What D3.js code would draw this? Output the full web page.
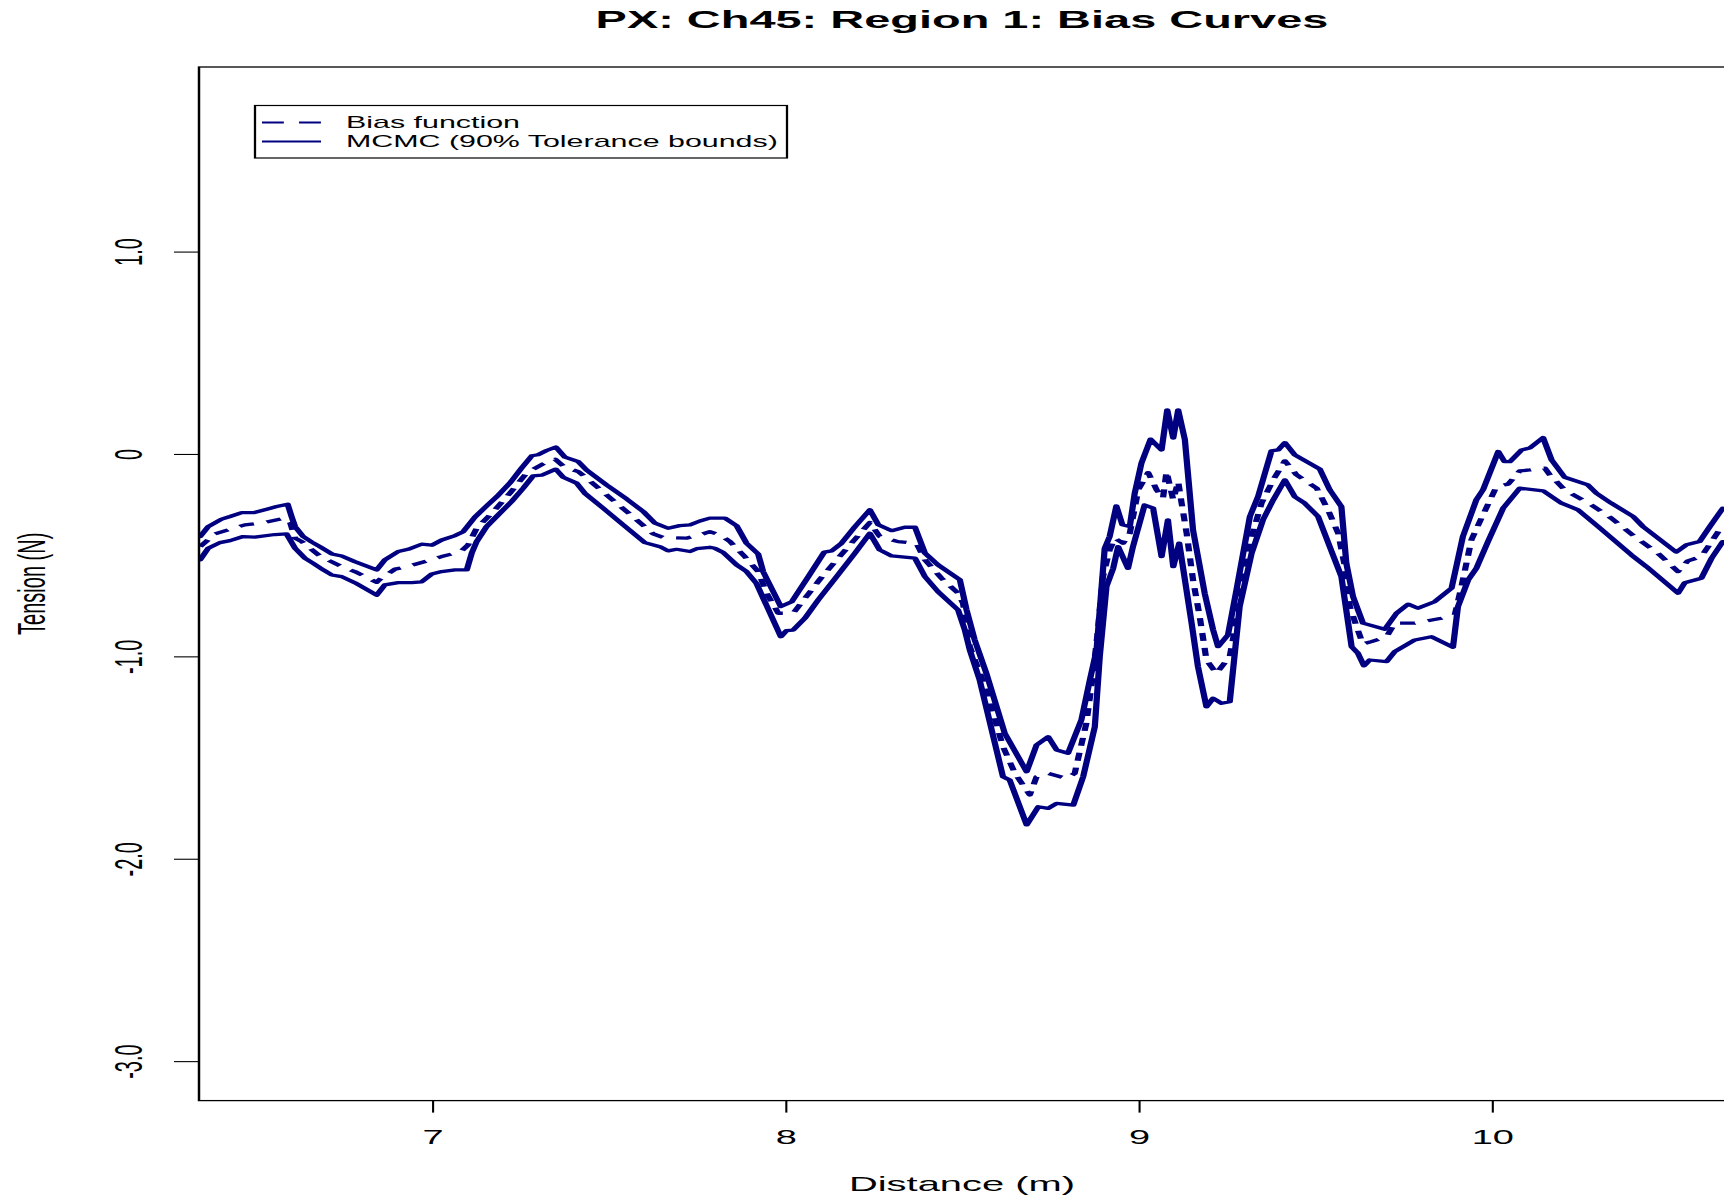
<!DOCTYPE html>
<html>
<head>
<meta charset="utf-8">
<script src="https://cdn.jsdelivr.net/npm/d3@7"></script>
<style>
    body { margin: 0; background: #fff; }
    svg text { font-family: "Liberation Sans", Arial, Helvetica, sans-serif; fill: #000; }
</style>
</head>
<body>
<svg id="chart" width="1724" height="1199"></svg>
<script>
// [distance (m), tension (N)]
var upperBound = [[6.343,-0.408],[6.366,-0.359],[6.404,-0.322],[6.428,-0.309],[6.461,-0.290],[6.494,-0.290],[6.532,-0.273],[6.560,-0.260],[6.591,-0.248],[6.602,-0.309],[6.612,-0.359],[6.635,-0.408],[6.659,-0.435],[6.682,-0.458],[6.716,-0.494],[6.744,-0.504],[6.781,-0.532],[6.843,-0.573],[6.866,-0.523],[6.904,-0.482],[6.932,-0.471],[6.970,-0.446],[6.999,-0.451],[7.027,-0.425],[7.065,-0.403],[7.088,-0.384],[7.121,-0.312],[7.154,-0.257],[7.183,-0.211],[7.220,-0.144],[7.253,-0.070],[7.282,-0.009],[7.300,-0.004],[7.324,0.017],[7.350,0.034],[7.376,-0.016],[7.414,-0.038],[7.437,-0.079],[7.494,-0.153],[7.551,-0.223],[7.598,-0.285],[7.631,-0.342],[7.668,-0.367],[7.701,-0.354],[7.730,-0.350],[7.758,-0.331],[7.786,-0.317],[7.829,-0.317],[7.862,-0.355],[7.890,-0.441],[7.923,-0.494],[7.937,-0.581],[7.987,-0.754],[8.018,-0.730],[8.065,-0.606],[8.110,-0.485],[8.131,-0.479],[8.159,-0.441],[8.197,-0.359],[8.239,-0.276],[8.263,-0.350],[8.301,-0.379],[8.338,-0.362],[8.367,-0.362],[8.395,-0.490],[8.432,-0.548],[8.494,-0.622],[8.513,-0.771],[8.536,-0.919],[8.569,-1.084],[8.621,-1.380],[8.683,-1.570],[8.711,-1.438],[8.744,-1.397],[8.768,-1.463],[8.800,-1.479],[8.838,-1.314],[8.862,-1.117],[8.881,-0.968],[8.904,-0.466],[8.918,-0.408],[8.937,-0.257],[8.954,-0.350],[8.975,-0.359],[8.989,-0.194],[9.008,-0.045],[9.034,0.073],[9.065,0.020],[9.081,0.218],[9.098,0.078],[9.112,0.218],[9.131,0.070],[9.154,-0.375],[9.187,-0.688],[9.211,-0.870],[9.225,-0.952],[9.253,-0.894],[9.277,-0.672],[9.315,-0.309],[9.338,-0.211],[9.376,0.015],[9.395,0.020],[9.414,0.056],[9.442,-0.004],[9.513,-0.075],[9.541,-0.177],[9.574,-0.260],[9.588,-0.540],[9.607,-0.705],[9.635,-0.836],[9.697,-0.866],[9.730,-0.787],[9.763,-0.742],[9.791,-0.762],[9.838,-0.730],[9.886,-0.663],[9.918,-0.408],[9.956,-0.227],[9.975,-0.177],[10.018,0.012],[10.036,-0.038],[10.051,-0.038],[10.084,0.020],[10.107,0.029],[10.145,0.081],[10.169,-0.029],[10.206,-0.115],[10.272,-0.153],[10.296,-0.194],[10.338,-0.243],[10.400,-0.309],[10.428,-0.359],[10.522,-0.485],[10.551,-0.449],[10.588,-0.433],[10.617,-0.359],[10.654,-0.268]];

var lowerBound = [[6.343,-0.523],[6.366,-0.466],[6.399,-0.438],[6.428,-0.428],[6.465,-0.408],[6.498,-0.411],[6.555,-0.398],[6.588,-0.395],[6.612,-0.466],[6.640,-0.515],[6.663,-0.540],[6.692,-0.573],[6.716,-0.598],[6.744,-0.606],[6.781,-0.636],[6.843,-0.698],[6.866,-0.647],[6.904,-0.636],[6.942,-0.636],[6.970,-0.632],[6.999,-0.593],[7.027,-0.581],[7.065,-0.573],[7.098,-0.573],[7.112,-0.490],[7.126,-0.433],[7.154,-0.359],[7.187,-0.301],[7.225,-0.235],[7.258,-0.169],[7.286,-0.108],[7.310,-0.105],[7.350,-0.075],[7.371,-0.115],[7.409,-0.144],[7.432,-0.194],[7.484,-0.268],[7.541,-0.350],[7.602,-0.438],[7.645,-0.458],[7.668,-0.479],[7.692,-0.471],[7.730,-0.482],[7.749,-0.468],[7.786,-0.461],[7.800,-0.466],[7.824,-0.487],[7.862,-0.548],[7.890,-0.581],[7.918,-0.639],[7.987,-0.903],[8.003,-0.873],[8.022,-0.870],[8.055,-0.812],[8.093,-0.721],[8.145,-0.606],[8.197,-0.490],[8.239,-0.392],[8.267,-0.474],[8.301,-0.504],[8.367,-0.515],[8.395,-0.606],[8.432,-0.680],[8.489,-0.771],[8.508,-0.870],[8.522,-0.968],[8.550,-1.117],[8.616,-1.595],[8.635,-1.611],[8.683,-1.833],[8.716,-1.743],[8.744,-1.751],[8.768,-1.726],[8.815,-1.735],[8.843,-1.595],[8.876,-1.348],[8.890,-1.001],[8.909,-0.655],[8.928,-0.565],[8.942,-0.458],[8.970,-0.565],[8.984,-0.458],[9.017,-0.252],[9.041,-0.268],[9.065,-0.507],[9.083,-0.326],[9.098,-0.557],[9.115,-0.441],[9.150,-0.836],[9.168,-1.051],[9.192,-1.249],[9.211,-1.207],[9.235,-1.232],[9.258,-1.224],[9.286,-0.754],[9.320,-0.490],[9.352,-0.326],[9.381,-0.227],[9.414,-0.128],[9.442,-0.211],[9.470,-0.243],[9.508,-0.309],[9.541,-0.458],[9.574,-0.606],[9.603,-0.952],[9.621,-0.985],[9.638,-1.047],[9.654,-1.018],[9.702,-1.026],[9.725,-0.977],[9.782,-0.919],[9.829,-0.903],[9.890,-0.955],[9.904,-0.754],[9.933,-0.622],[9.956,-0.565],[9.989,-0.433],[10.032,-0.268],[10.079,-0.169],[10.145,-0.182],[10.197,-0.243],[10.244,-0.276],[10.301,-0.359],[10.395,-0.499],[10.438,-0.557],[10.527,-0.688],[10.546,-0.636],[10.593,-0.614],[10.622,-0.515],[10.654,-0.433]];

var biasCurve = [[6.343,-0.458],[6.385,-0.395],[6.423,-0.375],[6.470,-0.350],[6.517,-0.342],[6.583,-0.317],[6.598,-0.339],[6.612,-0.416],[6.631,-0.433],[6.682,-0.504],[6.744,-0.557],[6.781,-0.581],[6.829,-0.622],[6.843,-0.634],[6.852,-0.619],[6.895,-0.569],[6.928,-0.557],[6.989,-0.527],[7.027,-0.507],[7.065,-0.490],[7.083,-0.479],[7.102,-0.449],[7.126,-0.367],[7.173,-0.285],[7.220,-0.194],[7.267,-0.095],[7.314,-0.049],[7.348,-0.026],[7.376,-0.067],[7.414,-0.087],[7.466,-0.161],[7.522,-0.243],[7.579,-0.326],[7.626,-0.395],[7.654,-0.413],[7.720,-0.416],[7.758,-0.400],[7.786,-0.384],[7.815,-0.400],[7.843,-0.433],[7.885,-0.507],[7.923,-0.581],[7.947,-0.688],[7.980,-0.787],[8.022,-0.787],[8.065,-0.692],[8.098,-0.619],[8.145,-0.523],[8.187,-0.441],[8.239,-0.339],[8.267,-0.408],[8.319,-0.433],[8.371,-0.441],[8.395,-0.523],[8.442,-0.614],[8.489,-0.688],[8.503,-0.738],[8.522,-0.952],[8.569,-1.166],[8.616,-1.446],[8.650,-1.578],[8.692,-1.685],[8.711,-1.595],[8.744,-1.578],[8.796,-1.603],[8.819,-1.578],[8.852,-1.331],[8.871,-1.084],[8.885,-0.870],[8.899,-0.606],[8.918,-0.474],[8.933,-0.416],[8.956,-0.441],[8.975,-0.392],[8.999,-0.177],[9.027,-0.092],[9.051,-0.177],[9.069,-0.218],[9.079,-0.087],[9.098,-0.227],[9.112,-0.136],[9.121,-0.235],[9.136,-0.392],[9.154,-0.622],[9.173,-0.804],[9.192,-1.018],[9.220,-1.084],[9.258,-1.001],[9.272,-0.870],[9.296,-0.606],[9.320,-0.408],[9.348,-0.243],[9.381,-0.128],[9.414,-0.034],[9.447,-0.103],[9.504,-0.169],[9.536,-0.276],[9.565,-0.392],[9.584,-0.557],[9.598,-0.754],[9.617,-0.853],[9.635,-0.939],[9.659,-0.927],[9.702,-0.903],[9.725,-0.836],[9.782,-0.836],[9.857,-0.812],[9.895,-0.795],[9.914,-0.655],[9.942,-0.425],[9.966,-0.334],[10.013,-0.161],[10.046,-0.149],[10.079,-0.084],[10.107,-0.079],[10.150,-0.070],[10.164,-0.103],[10.206,-0.177],[10.282,-0.252],[10.338,-0.317],[10.404,-0.408],[10.470,-0.490],[10.527,-0.581],[10.555,-0.528],[10.593,-0.507],[10.622,-0.433],[10.654,-0.350]];

var xTicks = [7, 8, 9, 10];
var yTicks = [1, 0, -1, -2, -3];
var yTickLabels = ["1.0", "0", "-1.0", "-2.0", "-3.0"];
var legendLabels = ["Bias function", "MCMC (90% Tolerance bounds)"];

var drawChart = function () {
    var stretch = 1.9;   // the picture is stretched sideways, text and strokes too
    var W = 1724, H = 1199;
    var plotLeft = 199, plotRight = 1725, plotTop = 67, plotBottom = 1100.6;
    var lineColor = "#000080";

    var svg = d3.select("#chart");
    svg.append("rect").attr("width", W).attr("height", H).attr("fill", "#fff");
    var g = svg.append("g").attr("transform", "scale(" + stretch + ",1)");

    var xScale = d3.scaleLinear().domain([6.34, 10.66]).range([plotLeft / stretch, plotRight / stretch]);
    var yScale = d3.scaleLinear().domain([-3.195, 1.912]).range([plotBottom, plotTop]);

    g.append("clipPath").attr("id", "plotClip")
        .append("rect")
        .attr("x", plotLeft / stretch).attr("y", plotTop)
        .attr("width", (plotRight - plotLeft) / stretch).attr("height", plotBottom - plotTop);

    var line = d3.line()
        .x(function (d) { return xScale(d[0]); })
        .y(function (d) { return yScale(d[1]); });

    var curves = g.append("g").attr("clip-path", "url(#plotClip)");
    [upperBound, lowerBound].forEach(function (series) {
        curves.append("path")
            .attr("d", line(series))
            .attr("fill", "none")
            .attr("stroke", lineColor)
            .attr("stroke-width", 3.3)
            .attr("stroke-linejoin", "round")
            .attr("stroke-linecap", "round");
    });
    curves.append("path")
        .attr("d", line(biasCurve))
        .attr("fill", "none")
        .attr("stroke", lineColor)
        .attr("stroke-width", 3.3)
        .attr("stroke-dasharray", "8,7")
        .attr("stroke-linejoin", "round");

    // box (right side falls outside the picture)
    g.append("rect")
        .attr("x", plotLeft / stretch).attr("y", plotTop)
        .attr("width", (plotRight + 10 - plotLeft) / stretch).attr("height", plotBottom - plotTop)
        .attr("fill", "none").attr("stroke", "#000").attr("stroke-width", 1.3);

    // x axis
    var xAxis = d3.axisBottom(xScale).tickValues(xTicks).tickSize(12).tickSizeOuter(0)
        .tickFormat(d3.format("d"));
    var xg = g.append("g").attr("transform", "translate(0," + plotBottom + ")").call(xAxis);
    xg.select(".domain").remove();
    xg.selectAll(".tick line").attr("stroke", "#000").attr("stroke-width", 1.1);
    xg.selectAll(".tick text")
        .attr("y", 43.5).attr("dy", null)
        .attr("font-size", 20).attr("font-family", null);

    // y axis
    var yAxis = d3.axisLeft(yScale).tickValues(yTicks).tickSize(25 / stretch).tickSizeOuter(0)
        .tickFormat(function (d, i) { return yTickLabels[i]; });
    var yg = g.append("g").attr("transform", "translate(" + (plotLeft / stretch) + ",0)").call(yAxis);
    yg.select(".domain").remove();
    yg.selectAll(".tick line").attr("stroke", "#000").attr("stroke-width", 1.1);
    yg.selectAll(".tick text")
        .attr("x", null).attr("dy", null)
        .attr("text-anchor", "middle")
        .attr("transform", "translate(" + ((142 - plotLeft) / stretch) + ",0) rotate(-90)")
        .attr("font-size", 20).attr("font-family", null);

    // titles
    g.append("text")
        .attr("x", (plotLeft + plotRight) / 2 / stretch).attr("y", 28.5)
        .attr("text-anchor", "middle")
        .attr("font-size", 24.7).attr("font-weight", "bold")
        .text("PX: Ch45: Region 1: Bias Curves");
    g.append("text")
        .attr("x", (plotLeft + plotRight) / 2 / stretch).attr("y", 1191)
        .attr("text-anchor", "middle")
        .attr("font-size", 21)
        .text("Distance (m)");
    g.append("text")
        .attr("transform", "translate(" + (45 / stretch) + "," + ((plotTop + plotBottom) / 2) + ") rotate(-90)")
        .attr("text-anchor", "middle")
        .attr("font-size", 20)
        .text("Tension (N)");

    // legend
    var legend = g.append("g");
    legend.append("rect")
        .attr("x", 255 / stretch).attr("y", 105.5)
        .attr("width", (787 - 255) / stretch).attr("height", 52.5)
        .attr("fill", "#fff").attr("stroke", "#000").attr("stroke-width", 1.2);
    var rowY = [122.5, 141.5];
    legendLabels.forEach(function (label, i) {
        legend.append("line")
            .attr("x1", 262 / stretch).attr("x2", 321 / stretch)
            .attr("y1", rowY[i]).attr("y2", rowY[i])
            .attr("stroke", lineColor).attr("stroke-width", 2.2)
            .attr("stroke-dasharray", i === 0 ? "11.5,8" : null);
        legend.append("text")
            .attr("x", 346 / stretch).attr("y", rowY[i] + 5.7)
            .attr("font-size", 16)
            .text(label);
    });
};

drawChart();
</script>
</body>
</html>
